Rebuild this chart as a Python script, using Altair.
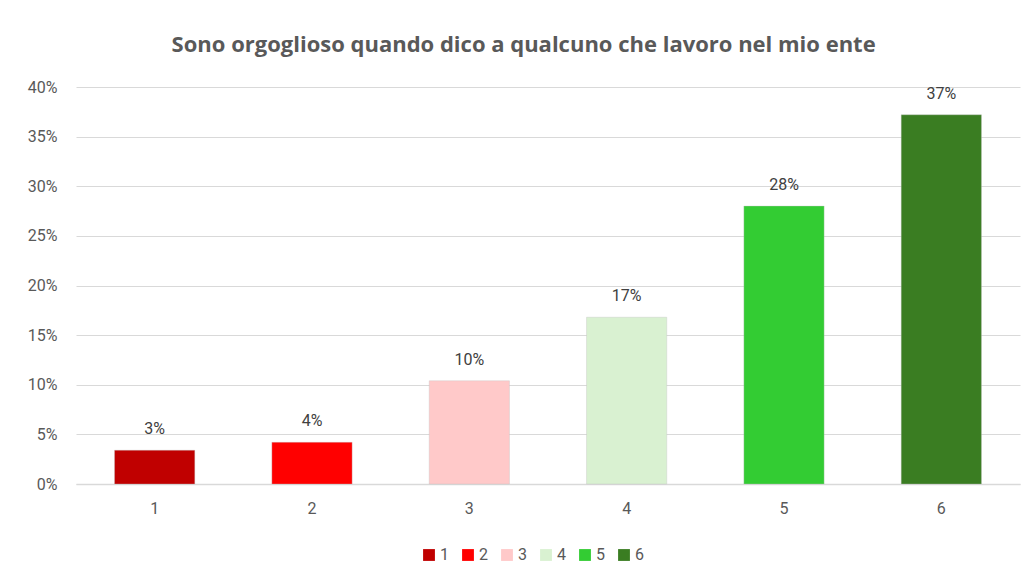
import altair as alt
import pandas as pd

categories = ["1", "2", "3", "4", "5", "6"]
values = [0.034, 0.042, 0.104, 0.168, 0.280, 0.372]
colors = ["#C00000", "#FF0000", "#FFC9C9", "#D9F1D1", "#33CC33", "#3A7D22"]
y_ticks = [0, 0.05, 0.10, 0.15, 0.20, 0.25, 0.30, 0.35, 0.40]
title_text = "Sono orgoglioso quando dico a qualcuno che lavoro nel mio ente"

df = pd.DataFrame({"cat": categories, "val": values})

FONT = "Roboto"
GREY = "#595959"

x = alt.X("cat:N", sort=categories, title=None,
          scale=alt.Scale(paddingInner=0.49, paddingOuter=0.245),
          axis=alt.Axis(labelAngle=0, labelFontSize=16, labelColor=GREY, labelFont=FONT,
                        ticks=False, tickSize=0, labelPadding=16, domainColor="#D9D9D9",
                        domainWidth=1.5, grid=False))
y = alt.Y("val:Q", title=None,
          scale=alt.Scale(domain=[0, 0.4], nice=False),
          axis=alt.Axis(values=y_ticks, format=".0%", labelFontSize=16, labelColor=GREY,
                        labelFont=FONT, ticks=False, tickSize=0, labelPadding=19,
                        domain=False, domainColor="transparent",
                        gridColor="#D9D9D9", gridWidth=1))

bars = alt.Chart(df).mark_bar(stroke="#BFBFBF", strokeOpacity=0.35, strokeWidth=1).encode(
    x=x, y=y,
    color=alt.Color("cat:N", sort=categories,
                    scale=alt.Scale(domain=categories, range=colors),
                    legend=alt.Legend(title=None, orient="none", direction="horizontal",
                                      legendX=345, legendY=460, symbolType="square",
                                      symbolSize=140, symbolStrokeWidth=0, labelFontSize=16,
                                      labelColor=GREY, labelFont=FONT, columnPadding=11,
                                      labelOffset=3))
)

labels = alt.Chart(df).mark_text(baseline="alphabetic", dy=-16, fontSize=16,
                                 color="#404040", font=FONT).encode(
    x=x, y=y,
    text=alt.Text("val:Q", format=".0%"),
)

chart = (bars + labels).properties(
    width=944, height=397,
    title=alt.TitleParams(title_text, fontSize=22, font="Open Sans", fontWeight="bold",
                          color=GREY, anchor="middle", frame="bounds", offset=22),
    autosize=alt.AutoSizeParams(type="none"),
    padding={"left": 68, "top": 79, "right": 6, "bottom": 80},
    view=alt.ViewBackground(strokeOpacity=0, strokeWidth=0),
).configure_view(strokeWidth=0, stroke="transparent").configure_axisY(
    domain=False, domainColor="transparent"
).configure_axisX(gridColor="transparent")

chart.save("out.html", embed_options={"renderer": "svg", "actions": False})
